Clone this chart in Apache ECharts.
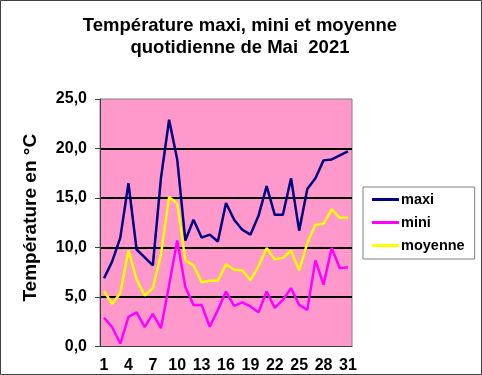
<!DOCTYPE html>
<html><head><meta charset="utf-8">
<script src="https://cdn.jsdelivr.net/npm/echarts@6/dist/echarts.min.js"></script>
<style>html,body{margin:0;padding:0;background:#fff}#c{width:482px;height:375px}</style>
</head><body><div id="c"></div>
<script>
const days = Array.from({length:31},(_,i)=>String(i+1));
const maxi = [6.9,8.6,11.0,16.5,9.8,9.0,8.2,17.0,22.9,18.9,10.7,12.8,11.0,11.3,10.6,14.5,12.8,11.8,11.3,13.2,16.2,13.3,13.3,17.0,11.7,15.9,17.0,18.8,18.9,19.3,19.7];
const mini = [2.9,1.95,0.3,3.0,3.45,1.95,3.3,1.85,6.2,10.7,6.0,4.2,4.2,2.0,3.7,5.55,4.1,4.45,4.05,3.45,5.55,3.9,4.7,5.9,4.2,3.7,8.7,6.25,9.95,7.9,8.0];
const moyenne = [5.6,4.3,5.4,9.7,6.75,5.15,5.9,9.3,15.1,14.45,8.7,8.2,6.5,6.65,6.65,8.3,7.75,7.7,6.7,8.1,9.95,8.8,8.95,9.7,7.7,10.45,12.3,12.4,13.85,13.0,13.0];
const yTicks = [0,5,10,15,20,25];

const font = 'Liberation Sans, Arial, sans-serif';
const chart = echarts.init(document.getElementById('c'), null, {renderer:'canvas'});
chart.setOption({
  animation:false,
  backgroundColor:'#fff',
  title:{
    text:'Température maxi, mini et moyenne\nquotidienne de Mai  2021',
    left:235, top:10, textAlign:'center',
    textStyle:{fontFamily:font,fontWeight:'bold',fontSize:18.5,lineHeight:22,color:'#000'}
  },
  graphic:[{type:'rect',shape:{x:0.5,y:0.5,width:481,height:374},style:{fill:'none',stroke:'#404040',lineWidth:1},silent:true}],
  legend:{
    orient:'vertical', left:363, top:187, width:112,
    padding:[5,10,6,9], itemGap:8, itemWidth:27, itemHeight:3,
    borderColor:'#808080', borderWidth:1, backgroundColor:'#fff',
    icon:'rect',
    textStyle:{fontFamily:font,fontWeight:'bold',fontSize:14.5,color:'#000',padding:[0,0,0,-3]},
    data:['maxi','mini','moyenne']
  },
  grid:{left:100,right:130,top:99,bottom:28.5,show:true,backgroundColor:'#FF99CC',borderColor:'#808080',borderWidth:1},
  xAxis:{
    type:'category', data:days, boundaryGap:true,
    axisLine:{lineStyle:{color:'#404040',width:1}},
    axisTick:{interval:0,length:5,lineStyle:{color:'#404040'}},
    axisLabel:{interval:2,fontFamily:font,fontWeight:'bold',fontSize:16,color:'#000',margin:11}
  },
  yAxis:{
    type:'value', min:yTicks[0], max:yTicks[yTicks.length-1], interval:5,
    name:'Température en °C', nameLocation:'middle', nameRotate:90, nameGap:60,
    nameTextStyle:{fontFamily:font,fontWeight:'bold',fontSize:19,color:'#000',padding:[0,0,0,10]},
    axisLine:{show:true,lineStyle:{color:'#404040',width:1}},
    axisTick:{show:true,length:5,lineStyle:{color:'#404040'}},
    axisLabel:{fontFamily:font,fontWeight:'bold',fontSize:16,color:'#000',margin:13,
      formatter:v=>v.toFixed(1).replace('.',',')},
    splitLine:{show:true,lineStyle:{color:['rgba(0,0,0,0)','#000','#000','#000','#000','rgba(0,0,0,0)'],width:2}}
  },
  series:[
    {name:'maxi',type:'line',data:maxi,symbol:'none',lineStyle:{width:2.5,color:'#000080'},itemStyle:{color:'#000080'}},
    {name:'mini',type:'line',data:mini,symbol:'none',lineStyle:{width:2.5,color:'#FF00FF'},itemStyle:{color:'#FF00FF'}},
    {name:'moyenne',type:'line',data:moyenne,symbol:'none',lineStyle:{width:2.5,color:'#FFFF00'},itemStyle:{color:'#FFFF00'}}
  ]
});
</script></body></html>
